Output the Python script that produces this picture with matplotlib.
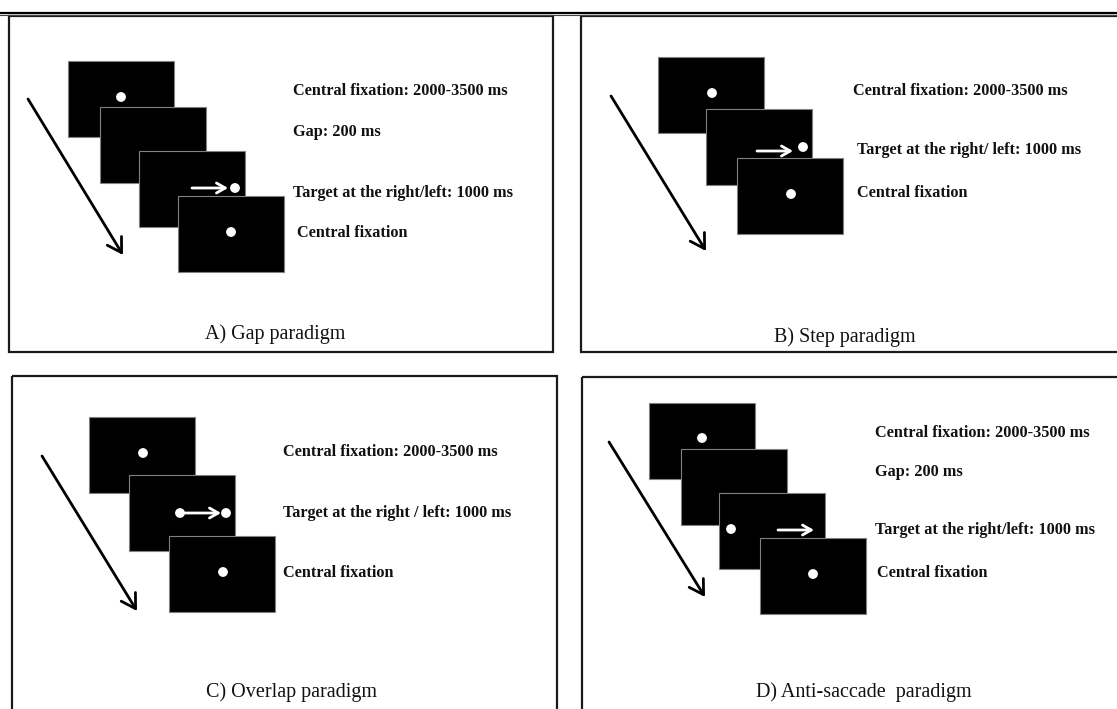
import matplotlib.pyplot as plt
from matplotlib.patches import Rectangle, Circle

W, H = 1117, 709
SCREEN_W, SCREEN_H = 106, 76

# panel frames: left, top, right, bottom (pixels)
frames = [(9, 16, 553, 352), (581, 16, 1125, 352),
          (12, 376, 557, 715), (582, 377, 1125, 715)]

titles = ["A) Gap paradigm", "B) Step paradigm",
          "C) Overlap paradigm", "D) Anti-saccade  paradigm"]
title_pos = [(275, 334), (845, 337), (292, 692), (864, 692)]

# top-left corners of the black screens, drawn back to front
screens_a = [(68, 61), (100, 107), (139, 151), (178, 196)]
screens_b = [(658, 57), (706, 109), (737, 158)]
screens_c = [(89, 417), (129, 475), (169, 536)]
screens_d = [(649, 403), (681, 449), (719, 493), (760, 538)]

# white dots (x, y)
dots_a = [(121, 97), (235, 188), (231, 232)]
dots_b = [(712, 93), (803, 147), (791, 194)]
dots_c = [(143, 453), (180, 513), (226, 513), (223, 572)]
dots_d = [(702, 438), (731, 529), (813, 574)]

# small white arrows (x0, x1, y)
small_a = [(192, 228, 188)]
small_b = [(757, 793, 151)]
small_c = [(182, 221, 513)]
small_d = [(778, 814, 530)]

# big time arrows (x0, y0, x1, y1)
time_arrows = [(28, 99, 123, 255), (611, 96, 706, 251),
               (42, 456, 137, 611), (609, 442, 705, 597)]

labels_a = ["Central fixation: 2000-3500 ms", "Gap: 200 ms",
            "Target at the right/left: 1000 ms", "Central fixation"]
labels_a_pos = [(293, 91), (293, 132), (293, 193), (297, 233)]
labels_b = ["Central fixation: 2000-3500 ms",
            "Target at the right/ left: 1000 ms", "Central fixation"]
labels_b_pos = [(853, 91), (857, 150), (857, 193)]
labels_c = ["Central fixation: 2000-3500 ms",
            "Target at the right / left: 1000 ms", "Central fixation"]
labels_c_pos = [(283, 452), (283, 513), (283, 573)]
labels_d = ["Central fixation: 2000-3500 ms", "Gap: 200 ms",
            "Target at the right/left: 1000 ms", "Central fixation"]
labels_d_pos = [(875, 433), (875, 472), (875, 530), (877, 573)]

FONT = 'Liberation Serif'


def draw_panel(ax, screens, dots, smalls, labels, label_pos):
    for x, y in screens:
        ax.add_patch(Rectangle((x, y), SCREEN_W, SCREEN_H, facecolor='black',
                               edgecolor='#808080', lw=0.8, zorder=2))
    for x, y in dots:
        ax.add_patch(Circle((x, y), 4.2, color='white', zorder=4))
    for x0, x1, y in smalls:
        ax.annotate('', xy=(x1, y), xytext=(x0, y), zorder=4,
                    arrowprops=dict(arrowstyle='->,head_length=0.35,head_width=0.2',
                                    color='white', lw=2.0, mutation_scale=18,
                                    shrinkA=0, shrinkB=0))
    for text, (x, y) in zip(labels, label_pos):
        ax.text(x, y, text, family=FONT, fontweight='bold', fontsize=11.7,
                ha='left', va='center', color='#111111')


fig = plt.figure(figsize=(W / 100, H / 100), dpi=100)
ax = fig.add_axes([0, 0, 1, 1])
ax.set_xlim(0, W)
ax.set_ylim(H, 0)
ax.axis('off')

# double rule along the top
ax.plot([0, W], [12.8, 12.8], color='black', lw=1.6)
ax.plot([0, W], [15.3, 15.3], color='#444444', lw=0.8)

for (l, t, r, b) in frames:
    ax.add_patch(Rectangle((l, t), r - l, b - t, fill=False,
                           edgecolor='#1a1a1a', lw=1.6, zorder=1))

for text, (x, y) in zip(titles, title_pos):
    ax.text(x, y, text, family=FONT, fontsize=14.5, ha='center', va='center',
            color='#111111')

for x0, y0, x1, y1 in time_arrows:
    ax.annotate('', xy=(x1, y1), xytext=(x0, y0),
                arrowprops=dict(arrowstyle='->,head_length=0.5,head_width=0.3',
                                color='black', lw=2.0, mutation_scale=20,
                                shrinkA=0, shrinkB=0))

draw_panel(ax, screens_a, dots_a, small_a, labels_a, labels_a_pos)
draw_panel(ax, screens_b, dots_b, small_b, labels_b, labels_b_pos)
draw_panel(ax, screens_c, dots_c, small_c, labels_c, labels_c_pos)
draw_panel(ax, screens_d, dots_d, small_d, labels_d, labels_d_pos)

fig.savefig('out.png', dpi=100)
